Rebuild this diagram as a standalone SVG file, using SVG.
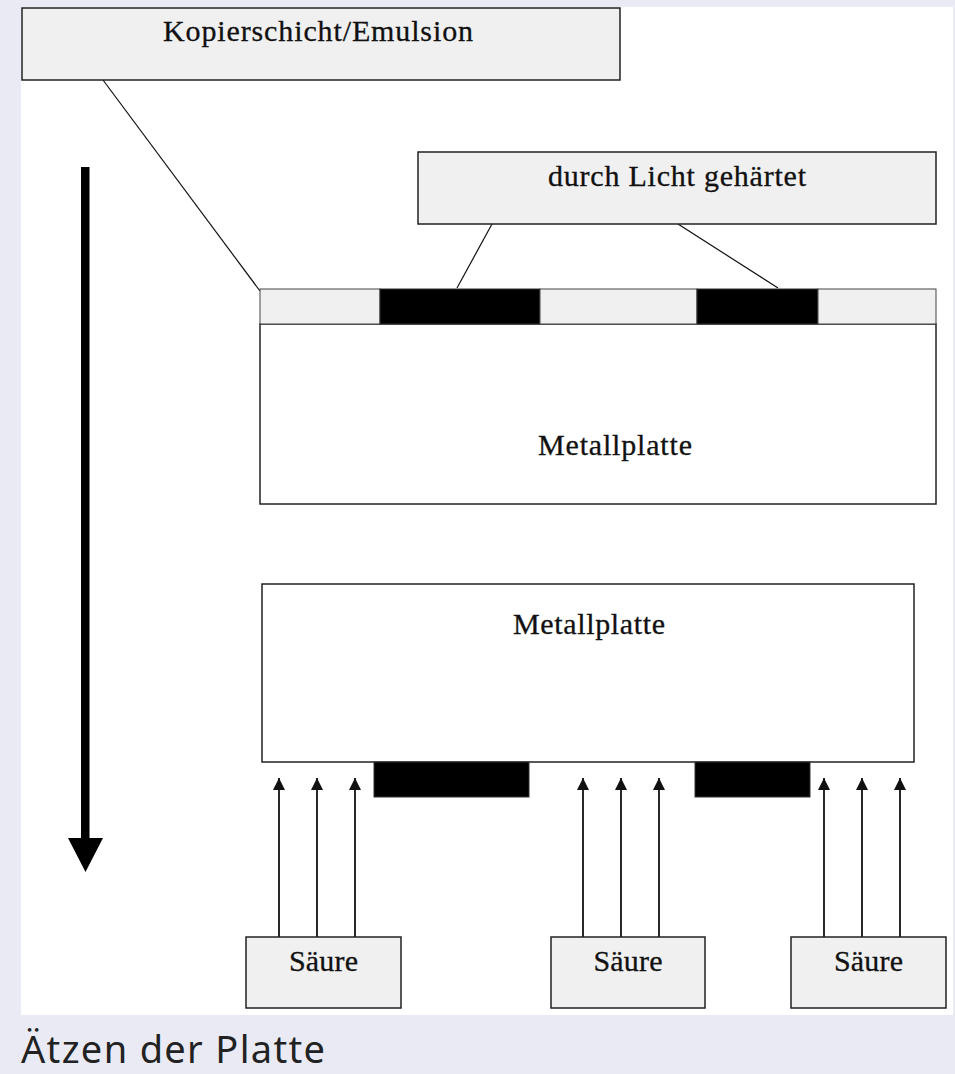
<svg xmlns="http://www.w3.org/2000/svg" width="955" height="1074" viewBox="0 0 955 1074">
<style>
.box{fill:#f0f0f0;stroke:#222;stroke-width:1.5}
.plate{fill:#fff;stroke:#222;stroke-width:1.5}
.blk{fill:#000;stroke:#333;stroke-width:1}
.lt{fill:#f0f0f0;stroke:#444;stroke-width:1}
.lbl{font-family:"Liberation Serif","Times New Roman",serif;font-size:30px;fill:#111;text-anchor:middle;stroke:#111;stroke-width:0.3}
.lead{stroke:#111;stroke-width:1.2;fill:none}
.acid{stroke:#111;stroke-width:1.8;fill:none;marker-end:url(#ah)}
.cap{font-family:"Noto Sans","Open Sans",sans-serif;font-size:38px;fill:#222}
</style>
<defs>
<marker id="ah" markerWidth="12" markerHeight="12" refX="12" refY="6" orient="auto" markerUnits="userSpaceOnUse" viewBox="0 0 12 12">
<path d="M0,0 L12,6 L0,12 Z" fill="#111"/>
</marker>
</defs>
<rect x="0" y="0" width="955" height="1074" fill="#eaeaf4"/>
<rect x="21" y="7" width="932" height="1008" fill="#fff"/>

<g id="connectors">
<line class="lead" x1="103" y1="80" x2="260" y2="291"/>
<line class="lead" x1="492" y1="224" x2="457" y2="288"/>
<line class="lead" x1="678" y1="224" x2="778" y2="288"/>
<path d="M81,167 H89.5 V838 H103 L85.5,872 L68,838 H81 Z" fill="#000"/>
<line class="acid" x1="279" y1="937" x2="279" y2="778"/>
<line class="acid" x1="317" y1="937" x2="317" y2="778"/>
<line class="acid" x1="355" y1="937" x2="355" y2="778"/>
<line class="acid" x1="583" y1="937" x2="583" y2="778"/>
<line class="acid" x1="621" y1="937" x2="621" y2="778"/>
<line class="acid" x1="659" y1="937" x2="659" y2="778"/>
<line class="acid" x1="824" y1="937" x2="824" y2="778"/>
<line class="acid" x1="862" y1="937" x2="862" y2="778"/>
<line class="acid" x1="900" y1="937" x2="900" y2="778"/>
</g>

<g id="kopierschicht">
<rect class="box" x="22" y="8" width="598" height="72"/>
<text class="lbl" x="318" y="41" textLength="310" lengthAdjust="spacing">Kopierschicht/Emulsion</text>
</g>

<g id="licht">
<rect class="box" x="418" y="152" width="518" height="72"/>
<text class="lbl" x="677" y="186" textLength="258" lengthAdjust="spacing">durch Licht gehärtet</text>
</g>

<g id="platte-oben">
<rect class="plate" x="260" y="324" width="676" height="180"/>
<text class="lbl" x="615" y="455" textLength="154" lengthAdjust="spacing">Metallplatte</text>
</g>

<g id="emulsion-oben">
<rect class="lt" x="260" y="289" width="120" height="35"/>
<rect class="blk" x="380" y="289" width="160" height="35"/>
<rect class="lt" x="540" y="289" width="157" height="35"/>
<rect class="blk" x="697" y="289" width="121" height="35"/>
<rect class="lt" x="818" y="289" width="118" height="35"/>
</g>

<g id="platte-unten">
<rect class="plate" x="262" y="584" width="652" height="178"/>
<text class="lbl" x="589" y="634" textLength="152" lengthAdjust="spacing">Metallplatte</text>
</g>

<g id="emulsion-unten">
<rect class="blk" x="374" y="762" width="155" height="35"/>
<rect class="blk" x="695" y="762" width="115" height="35"/>
</g>

<g id="saeure-1">
<rect class="box" x="246" y="937" width="155" height="71"/>
<text class="lbl" x="323.5" y="971" textLength="69" lengthAdjust="spacing">Säure</text>
</g>
<g id="saeure-2">
<rect class="box" x="551" y="937" width="154" height="71"/>
<text class="lbl" x="628" y="971" textLength="69" lengthAdjust="spacing">Säure</text>
</g>
<g id="saeure-3">
<rect class="box" x="791" y="937" width="155" height="71"/>
<text class="lbl" x="868.5" y="971" textLength="69" lengthAdjust="spacing">Säure</text>
</g>

<g id="caption">
<text class="cap" x="21" y="1063" textLength="304" lengthAdjust="spacing">Ätzen der Platte</text>
</g>
</svg>
